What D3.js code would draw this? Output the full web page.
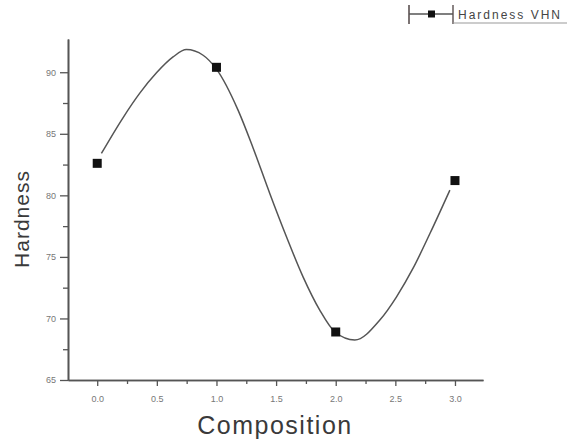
<!DOCTYPE html>
<html>
<head>
<meta charset="utf-8">
<script src="https://cdn.jsdelivr.net/npm/d3@7"></script>
<style>
  html, body { margin: 0; padding: 0; background: #fff; }
  svg { display: block; font-family: "Liberation Sans", Arial, sans-serif; }
</style>
</head>
<body>
<svg id="chart" width="567" height="441"></svg>
<script>
// Measured data points
const composition = [0.0, 1.0, 2.0, 3.0];
const hardness = [82.6, 90.4, 68.9, 81.2];

// Smooth connecting curve
const curveX = [0.035, 0.216, 0.357, 0.497, 0.636, 0.748, 0.888, 1.0, 1.181, 1.307, 1.447, 1.587, 1.726, 1.866, 1.992, 2.16, 2.37, 2.51, 2.65, 2.79, 2.957];
const curveY = [83.40, 86.30, 88.30, 89.95, 91.24, 91.84, 91.38, 90.25, 86.92, 83.85, 80.15, 76.63, 73.38, 70.68, 68.92, 68.25, 69.87, 71.76, 74.1, 76.9, 80.42];

// Tick labels
const xTicks = [0.0, 0.5, 1.0, 1.5, 2.0, 2.5, 3.0];
const xMinor = [0.25, 0.75, 1.25, 1.75, 2.25, 2.75];
const yTicks = [65, 70, 75, 80, 85, 90];
const yMinor = [67.5, 72.5, 77.5, 82.5, 87.5];

const legendLabel = "Hardness VHN";

const svg = d3.select("#chart");
const x = d3.scaleLinear().domain([-0.245, 3.235]).range([68, 483]);
const y = d3.scaleLinear().domain([65, 92.7]).range([380, 39]);

const axisColor = "#555";
const labelColor = "#777";

// X axis
const gx = svg.append("g").attr("transform", `translate(0,${y(65)})`);
gx.call(d3.axisBottom(x).tickValues(xTicks).tickFormat(d3.format(".1f")).tickSize(6).tickSizeOuter(0));
gx.append("g").call(d3.axisBottom(x).tickValues(xMinor).tickFormat("").tickSize(4).tickSizeOuter(0));
// Y axis
const gy = svg.append("g").attr("transform", `translate(${x(-0.245)},0)`);
gy.call(d3.axisLeft(y).tickValues(yTicks).tickFormat(d3.format("d")).tickSize(8).tickSizeOuter(0));
gy.append("g").call(d3.axisLeft(y).tickValues(yMinor).tickFormat("").tickSize(5).tickSizeOuter(0));

svg.selectAll(".domain").attr("stroke", axisColor).attr("stroke-width", 1.6);
svg.selectAll(".tick line").attr("stroke", axisColor).attr("stroke-width", 1.3);
svg.selectAll(".tick text").attr("fill", labelColor).attr("font-size", 9)
   .attr("font-family", "Liberation Sans, Arial, sans-serif");
gx.selectAll(".tick text").attr("dy", "1.4em");
gy.selectAll(".tick text").attr("x", -12);

// Curve
const pts = curveX.map((d, i) => [d, curveY[i]]);
svg.append("path")
  .datum(pts)
  .attr("fill", "none")
  .attr("stroke", "#555")
  .attr("stroke-width", 1.5)
  .attr("d", d3.line().x(d => x(d[0])).y(d => y(d[1])).curve(d3.curveMonotoneX));

// Markers
const ms = 9;
svg.selectAll("rect.pt")
  .data(composition.map((d, i) => [d, hardness[i]]))
  .join("rect")
  .attr("class", "pt")
  .attr("x", d => x(d[0]) - ms / 2)
  .attr("y", d => y(d[1]) - ms / 2)
  .attr("width", ms).attr("height", ms)
  .attr("fill", "#111");

// Axis titles
svg.append("text")
  .attr("x", 275).attr("y", 434)
  .attr("text-anchor", "middle")
  .attr("font-size", 25)
  .attr("letter-spacing", 1.5)
  .attr("fill", "#3a3a3a")
  .text("Composition");

svg.append("text")
  .attr("transform", "translate(29,219) rotate(-90)")
  .attr("text-anchor", "middle")
  .attr("font-size", 21)
  .attr("letter-spacing", 1)
  .attr("fill", "#3a3a3a")
  .text("Hardness");

// Legend
const lg = svg.append("g");
lg.append("line").attr("x1", 409).attr("x2", 409).attr("y1", 5).attr("y2", 24).attr("stroke", "#5a5050").attr("stroke-width", 1.6);
lg.append("line").attr("x1", 409).attr("x2", 453).attr("y1", 14).attr("y2", 14).attr("stroke", "#555").attr("stroke-width", 1.5);
lg.append("line").attr("x1", 453).attr("x2", 453).attr("y1", 5).attr("y2", 24).attr("stroke", "#5a5050").attr("stroke-width", 1.4);
lg.append("rect").attr("x", 428).attr("y", 10.5).attr("width", 7).attr("height", 7).attr("fill", "#111");
lg.append("line").attr("x1", 453).attr("x2", 567).attr("y1", 23).attr("y2", 23).attr("stroke", "#999").attr("stroke-width", 1);
lg.append("text")
  .attr("x", 458).attr("y", 19)
  .attr("font-size", 12)
  .attr("letter-spacing", 2)
  .attr("fill", "#444")
  .text(legendLabel);
</script>
</body>
</html>
